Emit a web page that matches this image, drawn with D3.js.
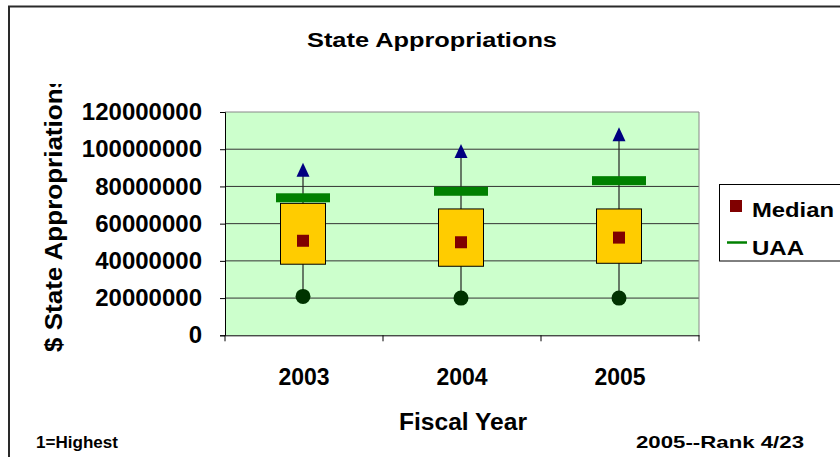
<!DOCTYPE html>
<html><head><meta charset="utf-8">
<script src="https://cdn.jsdelivr.net/npm/d3@7"></script>
<style>body{margin:0;background:#fff}svg{display:block;font-family:"Liberation Sans",Arial,sans-serif;font-weight:bold}</style>
</head><body><svg id="c" width="840" height="457"></svg>
<script>
const years = ["2003","2004","2005"];
const minVals = [20.9e6, 20.0e6, 20.0e6];
const q1Vals = [38.2e6, 37.1e6, 38.7e6];
const medianVals = [50.8e6, 50.0e6, 52.5e6];
const q3Vals = [70.9e6, 67.9e6, 67.9e6];
const maxVals = [89.0e6, 99.0e6, 108.0e6];
const uaaVals = [73.9e6, 77.4e6, 83.1e6];
const yTicks = [0,20000000,40000000,60000000,80000000,100000000,120000000];

const FF = "'Liberation Sans',Arial,sans-serif";
const svg = d3.select("#c");
const L=225,R=699,T=112,B=335.3;
const x = d3.scaleBand().domain(years).range([L,R]).padding(0);
const y = d3.scaleLinear().domain([0,120000000]).range([B,T]);

// frame
svg.append("path").attr("d","M9,457V6.5H840").attr("fill","none").attr("stroke","#2a2a2a").attr("stroke-width",2);

// plot bg
svg.append("rect").attr("x",L).attr("y",T).attr("width",R-L).attr("height",B-T).attr("fill","#CCFFCC");
// grid
svg.append("g").selectAll("line").data(yTicks.filter(v=>v>0&&v<120000000)).join("line")
  .attr("x1",L).attr("x2",R).attr("y1",d=>y(d)).attr("y2",d=>y(d)).attr("stroke","#333").attr("stroke-width",1);
// top/right border
svg.append("path").attr("d",`M${L},${y(120000000)}H${R}V${B}`).attr("fill","none").attr("stroke","#888").attr("stroke-width",1);

// y axis
const ya = d3.axisLeft(y).tickValues(yTicks).tickSize(5).tickPadding(18).tickFormat(d3.format("d"));
const gy = svg.append("g").attr("transform",`translate(${L},0)`).call(ya);
gy.select(".domain").attr("stroke","#000");
gy.selectAll(".tick line").attr("stroke","#000");
gy.selectAll("text").attr("font-size",24).attr("font-weight","bold").attr("font-family",FF).attr("fill","#000");

// x axis
const xa = d3.axisBottom(x).tickSize(0).tickPadding(0);
const gx = svg.append("g").attr("transform",`translate(0,${B})`).call(xa);
gx.select(".domain").attr("stroke","#000");
gx.selectAll("text").attr("font-size",23).attr("font-weight","bold").attr("font-family",FF).attr("fill","#000").attr("dy",null).attr("y",50);
const bounds = years.map(d=>x(d)).concat([x(years[years.length-1])+x.bandwidth()]);
gx.selectAll(".btick").data(bounds).join("line").attr("class","btick")
  .attr("x1",d=>d).attr("x2",d=>d).attr("y1",0).attr("y2",6).attr("stroke","#000");

const cx = d=>x(d)+x.bandwidth()/2 - 1;
const idx = years.map((d,i)=>i);

// whiskers
svg.append("g").selectAll("line").data(idx).join("line")
  .attr("x1",i=>cx(years[i])).attr("x2",i=>cx(years[i]))
  .attr("y1",i=>y(minVals[i])).attr("y2",i=>y(maxVals[i])).attr("stroke","#222").attr("stroke-width",1.2);
// boxes
svg.append("g").selectAll("rect").data(idx).join("rect")
  .attr("x",i=>cx(years[i])-22.5).attr("width",45)
  .attr("y",i=>y(q3Vals[i])).attr("height",i=>y(q1Vals[i])-y(q3Vals[i]))
  .attr("fill","#FFCC00").attr("stroke","#000").attr("stroke-width",1);
// UAA bars
svg.append("g").selectAll("rect").data(idx).join("rect")
  .attr("x",i=>cx(years[i])-27).attr("width",54)
  .attr("y",i=>y(uaaVals[i])-4.5).attr("height",9).attr("fill","#008000");
// medians
svg.append("g").selectAll("rect").data(idx).join("rect")
  .attr("x",i=>cx(years[i])-6).attr("width",12)
  .attr("y",i=>y(medianVals[i])-6).attr("height",12).attr("fill","#800000");
// max triangles
svg.append("g").selectAll("path").data(idx).join("path")
  .attr("transform",i=>`translate(${cx(years[i])},${y(maxVals[i])})`)
  .attr("d","M0,-7L6.5,7L-6.5,7Z").attr("fill","#000080");
// min circles
svg.append("g").selectAll("circle").data(idx).join("circle")
  .attr("cx",i=>cx(years[i])).attr("cy",i=>y(minVals[i])).attr("r",7.5).attr("fill","#003300");

// title
svg.append("text").attr("x",307).attr("y",47).attr("font-size",20).attr("textLength",250).attr("lengthAdjust","spacingAndGlyphs").text("State Appropriations");
// x title
svg.append("text").attr("x",399).attr("y",430).attr("font-size",23).attr("textLength",128).attr("lengthAdjust","spacingAndGlyphs").text("Fiscal Year");
// y title (clipped at top)
svg.append("clipPath").attr("id","yc").append("rect").attr("x",0).attr("y",84).attr("width",100).attr("height",373);
svg.append("g").attr("clip-path","url(#yc)").append("text")
  .attr("transform","translate(62,352) rotate(-90)").attr("font-size",23).attr("textLength",278).attr("lengthAdjust","spacingAndGlyphs").text("$ State Appropriations");

// footers
svg.append("text").attr("x",36).attr("y",448).attr("font-size",17).attr("textLength",82).attr("lengthAdjust","spacingAndGlyphs").text("1=Highest");
svg.append("text").attr("x",636).attr("y",448).attr("font-size",17).attr("textLength",168).attr("lengthAdjust","spacingAndGlyphs").text("2005--Rank 4/23");

// legend
const lg = svg.append("g");
lg.append("rect").attr("x",719.5).attr("y",184.5).attr("width",130).attr("height",76.5).attr("fill","#fff").attr("stroke","#000");
lg.append("rect").attr("x",730).attr("y",200).attr("width",12).attr("height",12).attr("fill","#800000");
lg.append("text").attr("x",752).attr("y",217).attr("font-size",21).attr("textLength",82).attr("lengthAdjust","spacingAndGlyphs").text("Median");
lg.append("line").attr("x1",727).attr("x2",747).attr("y1",242.5).attr("y2",242.5).attr("stroke","#008000").attr("stroke-width",2.5);
lg.append("text").attr("x",752).attr("y",255).attr("font-size",20).attr("textLength",52).attr("lengthAdjust","spacingAndGlyphs").text("UAA");
</script></body></html>
